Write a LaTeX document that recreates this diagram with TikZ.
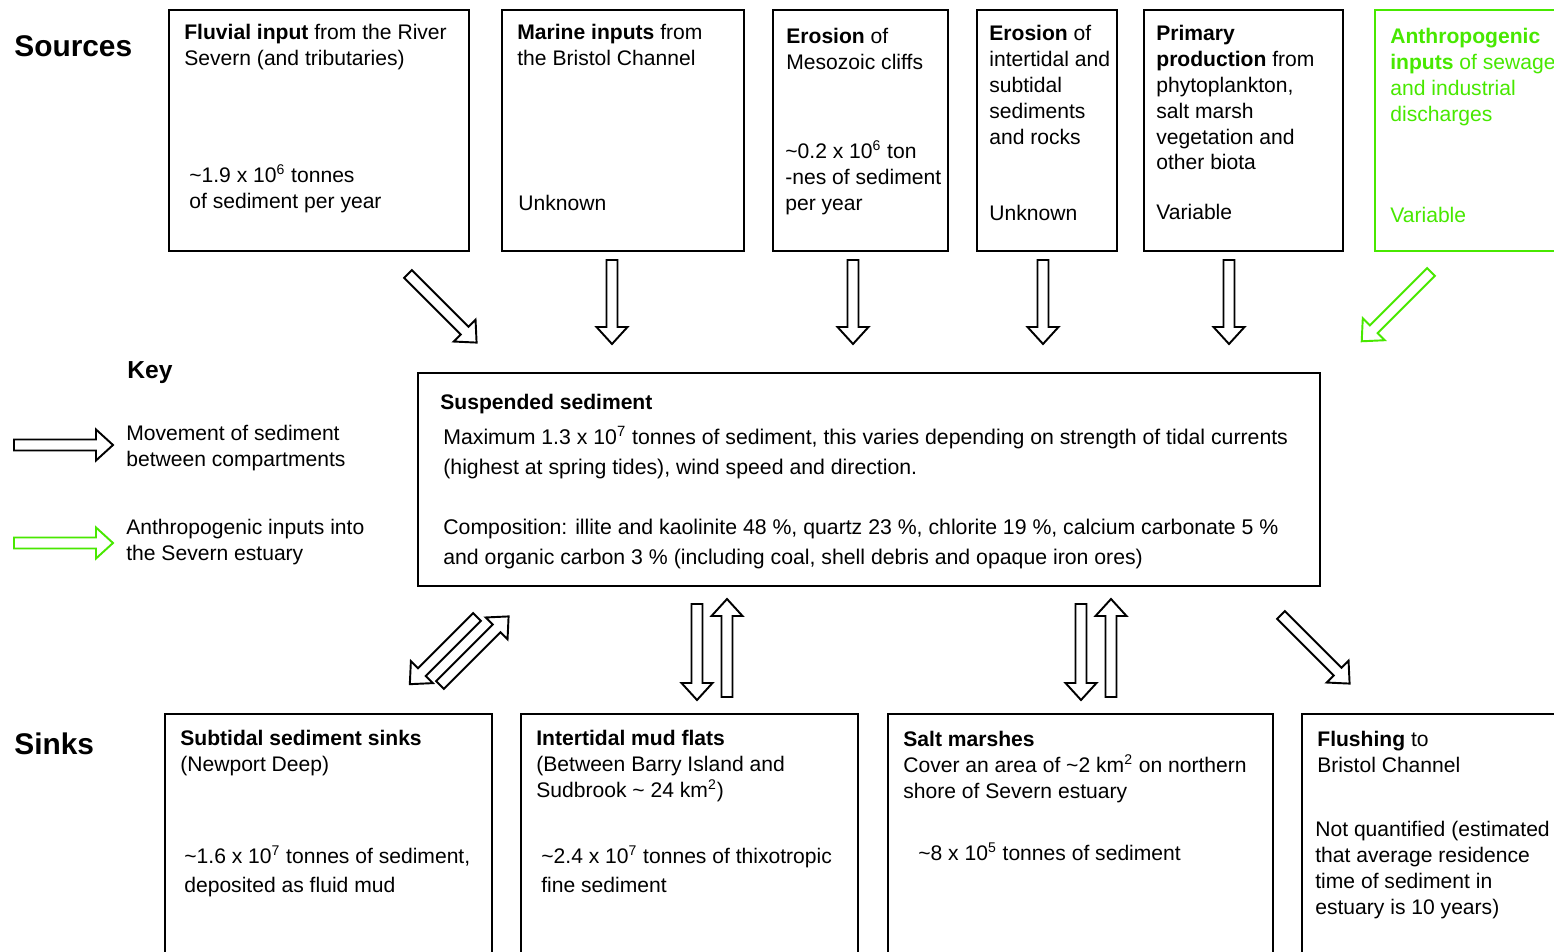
\documentclass[tikz,border=0pt]{standalone}
\usepackage{fontspec}
\setmainfont{Liberation Sans}
\definecolor{anthro}{RGB}{72,232,0}
\newcommand{\sq}[1]{\textsuperscript{#1}}
\newcommand{\tl}{\textasciitilde}
\newcommand{\bodyfont}{\fontsize{12}{14.74}\selectfont}
\tikzset{
  x=0.02cm, y=-0.02cm,
  box/.style={draw, line width=1.1pt, anchor=north west, inner sep=0pt},
  txt/.style={anchor=north west, inner sep=0pt, align=left, font=\bodyfont},
  wide/.style={anchor=north west, inner sep=0pt, align=left, font=\fontsize{12.1}{17}\selectfont},
  mid/.style={anchor=north west, inner sep=0pt, align=left, font=\fontsize{12}{16.4}\selectfont},
  title/.style={anchor=west, inner sep=0pt, font=\fontsize{17}{20}\selectfont\bfseries},
  pics/barrow/.style={code={
    \draw[line width=1.1pt, line join=miter] (0,-5.5) -- ({#1-17},-5.5) -- ({#1-17},-15.5) -- (#1,0)
      -- ({#1-17},15.5) -- ({#1-17},5.5) -- (0,5.5) -- cycle;}}
}
\begin{document}
\begin{tikzpicture}
\useasboundingbox (0,0) rectangle (1554,952);
\clip (0,0) rectangle (1554,952);
\fill[white] (0,0) rectangle (1554,952);

% headings
\node[title] (hsrc) at (14,46) {Sources};
\node[title] (hsnk) at (14,744) {Sinks};
\node[anchor=west, inner sep=0pt, font=\fontsize{14}{17}\selectfont\bfseries] (hkey) at (127,373) {Key};

% source boxes
\node[box, minimum width=300*0.02cm, minimum height=241*0.02cm] (src1) at (168,9) {};
\node[box, minimum width=242*0.02cm, minimum height=241*0.02cm] (src2) at (501,9) {};
\node[box, minimum width=175*0.02cm, minimum height=241*0.02cm] (src3) at (772,9) {};
\node[box, minimum width=140*0.02cm, minimum height=241*0.02cm] (src4) at (976,9) {};
\node[box, minimum width=199*0.02cm, minimum height=241*0.02cm] (src5) at (1143,9) {};
\node[box, draw=anthro, minimum width=250*0.02cm, minimum height=241*0.02cm] (src6) at (1374,9) {};

\node[txt] (t1a) at (184,21) {\strut\textbf{Fluvial input} from the River\\Severn (and tributaries)};
\node[txt] (t1b) at (189,164) {\strut\tl1.9 x 10\sq{6} tonnes\\of sediment per year};
\node[txt] (t2a) at (517,21) {\strut\textbf{Marine inputs} from\\the Bristol Channel};
\node[txt] (t2b) at (518,192) {\strut Unknown};
\node[txt] (t3a) at (786,25) {\strut\textbf{Erosion} of\\Mesozoic cliffs};
\node[txt] (t3b) at (785,140) {\strut\tl0.2 x 10\sq{6} ton\\-nes of sediment\\per year};
\node[txt] (t4a) at (989,22) {\strut\textbf{Erosion} of\\intertidal and\\subtidal\\sediments\\and rocks};
\node[txt] (t4b) at (989,202) {\strut Unknown};
\node[txt] (t5a) at (1156,22) {\strut\textbf{Primary}\\\textbf{production} from\\phytoplankton,\\salt marsh\\vegetation and\\other biota};
\node[txt] (t5b) at (1156,201) {\strut Variable};
\node[txt, text=anthro] (t6a) at (1390,25) {\strut\textbf{Anthropogenic}\\\textbf{inputs} of sewage\\and industrial\\discharges};
\node[txt, text=anthro] (t6b) at (1390,204) {\strut Variable};

% source arrows
\pic[rotate=-45] (a1) at (408,274) {barrow=97};
\pic[rotate=-90] (a2) at (612,260) {barrow=84};
\pic[rotate=-90] (a3) at (853,260) {barrow=84};
\pic[rotate=-90] (a4) at (1043,260) {barrow=84};
\pic[rotate=-90] (a5) at (1229,260) {barrow=84};
\pic[rotate=-135, anthro] (a6) at (1431,272) {barrow=98};

% key
\pic (k1) at (14,445) {barrow=99};
\pic[anthro] (k2) at (14,543) {barrow=99};
\node[txt] (kt1) at (126,422) {\strut Movement of sediment\\between compartments};
\node[txt] (kt2) at (126,516) {\strut Anthropogenic inputs into\\the Severn estuary};

% central box
\node[box, minimum width=902*0.02cm, minimum height=213*0.02cm] (central) at (417,372) {};
\node[txt] (ct) at (440,391) {\strut\textbf{Suspended sediment}};
\node[wide] (c1) at (443,423) {\strut Maximum 1.3 x 10\sq{7} tonnes of sediment, this varies depending on strength of tidal currents\\(highest at spring tides), wind speed and direction.};
\node[wide] (c2) at (443,513) {\strut Composition: illite and kaolinite 48 \%, quartz 23 \%, chlorite 19 \%, calcium carbonate 5 \%\\and organic carbon 3 \% (including coal, shell debris and opaque iron ores)};

% sink arrows
\pic[rotate=-135] (b1) at (477,617) {barrow=95};
\pic[rotate=45] (b2) at (440,685) {barrow=97};
\pic[rotate=-90] (b3) at (697,604) {barrow=96};
\pic[rotate=90] (b4) at (727,697) {barrow=98};
\pic[rotate=-90] (b5) at (1081,604) {barrow=96};
\pic[rotate=90] (b6) at (1111,697) {barrow=98};
\pic[rotate=-45] (b7) at (1281,615) {barrow=97};

% sink boxes
\node[box, minimum width=327*0.02cm, minimum height=300*0.02cm] (snk1) at (164,713) {};
\node[box, minimum width=337*0.02cm, minimum height=300*0.02cm] (snk2) at (520,713) {};
\node[box, minimum width=385*0.02cm, minimum height=300*0.02cm] (snk3) at (887,713) {};
\node[box, minimum width=300*0.02cm, minimum height=300*0.02cm] (snk4) at (1301,713) {};

\node[txt] (s1a) at (180,727) {\strut\textbf{Subtidal sediment sinks}\\(Newport Deep)};
\node[mid] (s1b) at (184,843) {\strut\tl1.6 x 10\sq{7} tonnes of sediment,\\deposited as fluid mud};
\node[txt] (s2a) at (536,727) {\strut\textbf{Intertidal mud flats}\\(Between Barry Island and\\Sudbrook \tl{} 24 km\sq{2})};
\node[mid] (s2b) at (541,843) {\strut\tl2.4 x 10\sq{7} tonnes of thixotropic\\fine sediment};
\node[txt] (s3a) at (903,728) {\strut\textbf{Salt marshes}\\Cover an area of \tl2 km\sq{2} on northern\\shore of Severn estuary};
\node[txt] (s3b) at (918,842) {\strut\tl8 x 10\sq{5} tonnes of sediment};
\node[txt] (s4a) at (1317,728) {\strut\textbf{Flushing} to\\Bristol Channel};
\node[txt] (s4b) at (1315,818) {\strut Not quantified (estimated\\that average residence\\time of sediment in\\estuary is 10 years)};
\end{tikzpicture}
\end{document}
